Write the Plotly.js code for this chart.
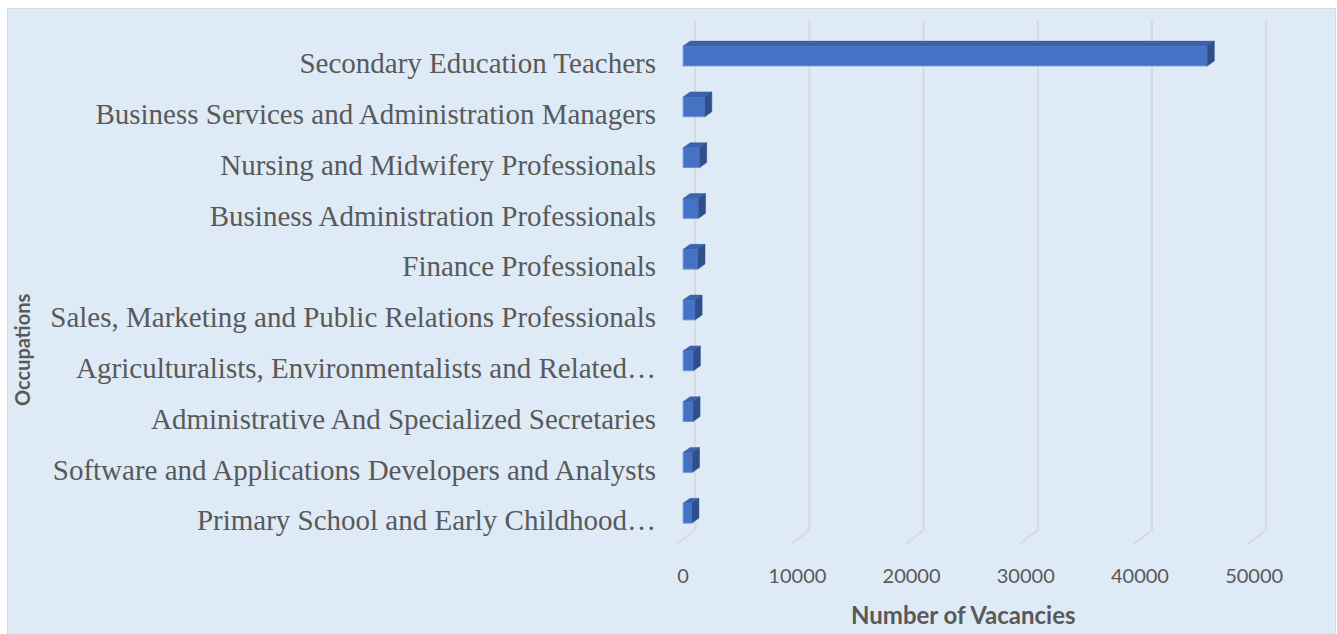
<!DOCTYPE html>
<html>
<head>
<meta charset="utf-8">
<script src="https://cdn.plot.ly/plotly-3.0.1.min.js"></script>
<style>
  html, body { margin: 0; padding: 0; background: #ffffff; }
  #frame { position: absolute; left: 7px; top: 8px; width: 1327px; height: 630px;
           border: 1px solid #d9d9d9; border-bottom: none; background: #deebf7; overflow: hidden; }
  #chart { width: 1327px; height: 625px; }
</style>
</head>
<body>
<div id="frame"><div id="chart"></div></div>
<script>
// ---- data ----
const occupations = [
  "Secondary Education Teachers",
  "Business Services and Administration Managers",
  "Nursing and Midwifery Professionals",
  "Business Administration Professionals",
  "Finance Professionals",
  "Sales, Marketing and Public Relations Professionals",
  "Agriculturalists, Environmentalists and Related…",
  "Administrative And Specialized Secretaries",
  "Software and Applications Developers and Analysts",
  "Primary School and Early Childhood…"
];
const vacancies = [45900, 1900, 1450, 1350, 1300, 1050, 900, 870, 820, 770];
const xTickVals = [0, 10000, 20000, 30000, 40000, 50000];
const xTickText = ["0", "10000", "20000", "30000", "40000", "50000"];

// ---- styling / geometry ----
const pxPerUnit = 571 / 50000;      // horizontal scale
const pxPerCat = 50.8;              // vertical spacing of categories
const barW = 0.39;
const depthX = 7 / pxPerUnit;       // 3D side depth in data units
const depthY = 5 / pxPerCat;        // 3D top depth in category units
const yTop = -0.709, yBot = 9.685;
const gridBackX = 12 / pxPerUnit, gridFrontX = -6 / pxPerUnit;
const gridDiagTop = (530 - 56) / pxPerCat, gridDiagBot = (544 - 56) / pxPerCat;

const idx = occupations.map((_, i) => i);

// gridlines (back wall + floor diagonal) as shapes below the bars
const gridShapes = xTickVals.map(t => ({
  type: 'path', xref: 'x', yref: 'y', layer: 'below',
  path: 'M ' + (t + gridBackX) + ',' + yTop + ' L ' + (t + gridBackX) + ',' + gridDiagTop +
        ' L ' + (t + gridFrontX) + ',' + gridDiagBot,
  line: { color: '#d9d9d9', width: 2 }
}));

// 3D faces from the data
const topX = [], topY = [], sideX = [], sideY = [];
vacancies.forEach((v, i) => {
  const yt = i - barW / 2, yb = i + barW / 2;
  topX.push(0, v, v + depthX, depthX, 0, null);
  topY.push(yt, yt, yt - depthY, yt - depthY, yt, null);
  sideX.push(v, v + depthX, v + depthX, v, v, null);
  sideY.push(yt, yt - depthY, yb - depthY, yb, yt, null);
});

const traces = [
  { type: 'bar', orientation: 'h', x: vacancies, y: idx, width: barW, base: 0,
    marker: { color: '#4472c4', line: { color: '#6f93d3', width: 1 } },
    showlegend: false },
  { type: 'scatter', mode: 'lines', x: topX, y: topY, fill: 'toself', fillcolor: '#3b62ab',
    line: { color: '#3b62ab', width: 0.5 }, hoverinfo: 'skip', showlegend: false },
  { type: 'scatter', mode: 'lines', x: sideX, y: sideY, fill: 'toself', fillcolor: '#2f4f8c',
    line: { color: '#2f4f8c', width: 0.5 }, hoverinfo: 'skip', showlegend: false }
];

const layout = {
  width: 1327, height: 625,
  margin: { l: 658, r: 58, t: 11, b: 86 },
  paper_bgcolor: '#deebf7', plot_bgcolor: 'rgba(0,0,0,0)',
  showlegend: false,
  shapes: gridShapes,
  xaxis: {
    range: [-1500, 52000], tickvals: xTickVals, ticktext: xTickText,
    showgrid: false, zeroline: false, showline: false, ticks: '',
    ticklabelstandoff: 14,
    tickfont: { family: 'Lato, sans-serif', size: 20, color: '#595959' }
  },
  yaxis: {
    range: [yBot, yTop], tickvals: idx, ticktext: occupations,
    showgrid: false, zeroline: false, showline: false, ticks: '',
    ticklabelstandoff: 9, ticklabelshift: -7,
    tickfont: { family: '"Liberation Serif", "Times New Roman", serif', size: 29, color: '#595959' }
  },
  annotations: [
    { text: '<b>Number of Vacancies</b>', xref: 'paper', yref: 'paper',
      x: (963 - 666) / 611, y: 1 - (614 - 20) / 528, xanchor: 'center', yanchor: 'middle',
      showarrow: false, font: { family: 'Lato, sans-serif', size: 24, color: '#595959' } },
    { text: '<b>Occupations</b>', xref: 'paper', yref: 'paper', textangle: -90,
      x: (22 - 666) / 611, y: 1 - (350 - 20) / 528, xanchor: 'center', yanchor: 'middle',
      showarrow: false, font: { family: 'Lato, sans-serif', size: 20, color: '#595959' } }
  ]
};

Plotly.newPlot('chart', traces, layout, { displayModeBar: false, staticPlot: true });
</script>
</body>
</html>
